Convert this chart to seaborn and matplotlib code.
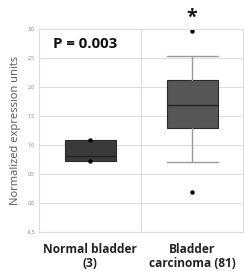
import matplotlib
matplotlib.use("Agg")
import matplotlib.pyplot as plt
import seaborn as sns

categories = ["Normal bladder\n(3)", "Bladder\ncarcinoma (81)"]
q1 = [0.73, 1.29]
medians = [0.81, 1.69]
q3 = [1.08, 2.12]
whisker_low = [0.73, 0.70]
whisker_high = [1.08, 2.53]
outliers = [[0.73, 1.08], [0.19, 2.96]]
box_colors = ["#3b3b3b", "#565656"]
yticks = [-0.5, 0.0, 0.5, 1.0, 1.5, 2.0, 2.5, 3.0]
p_text = "P = 0.003"
star_text = "*"

sns.set_theme(style="white")
plt.rcParams['font.family'] = ['Open Sans', 'DejaVu Sans']

fig = plt.figure(figsize=(2.44, 2.71), dpi=100)
ax = fig.add_axes([39/244, 1-232/271, 204/244, 203/271])

stats = []
for i, c in enumerate(categories):
    stats.append(dict(label=c, q1=q1[i], med=medians[i], q3=q3[i],
                      whislo=whisker_low[i], whishi=whisker_high[i], fliers=outliers[i]))

for i, s in enumerate(stats):
    bp = ax.bxp([s], positions=[i], widths=0.5, patch_artist=True,
                showcaps=(i == 1), capwidths=0.5,
                boxprops=dict(facecolor=box_colors[i], edgecolor="#2a2a2a", linewidth=0.8),
                medianprops=dict(color="#222222", linewidth=1.0),
                whiskerprops=dict(color="#999999", linewidth=1.0),
                capprops=dict(color="#999999", linewidth=1.0),
                flierprops=dict(marker="o", markersize=2.2, markerfacecolor="black",
                                markeredgecolor="black"))

ax.set_xlim(-0.5, 1.5)
ax.set_ylim(-0.5, 3.0)
ax.set_yticks(yticks)
ax.set_yticklabels([f"{t:.1f}" for t in yticks], fontsize=3.5, color="#777777")
ax.set_xticks([0, 1])
ax.set_xticklabels(categories, fontsize=8.6, fontweight="bold", color="#222222",
                   linespacing=1.05)
ax.tick_params(axis="x", length=0, pad=8)
ax.tick_params(axis="y", length=0, pad=3)
for t in yticks:
    ax.axhline(t, color="#dddddd", linewidth=0.8, zorder=0)
ax.axvline(0.5, color="#dddddd", linewidth=0.8, zorder=0)
for sp in ax.spines.values():
    sp.set_color("#dddddd")
    sp.set_linewidth(0.8)
ax.set_ylabel("Normalized expression units", fontsize=8, color="#555555", labelpad=4)

ax.text(-0.05, 2.74, p_text, ha="center", va="center", fontsize=10.8, fontweight="bold", color="#111111")
ax.text(1, 3.2, star_text, ha="center", va="center", fontsize=14, fontweight="bold",
        color="#111111", clip_on=False)

fig.savefig("out.png", dpi=100)
